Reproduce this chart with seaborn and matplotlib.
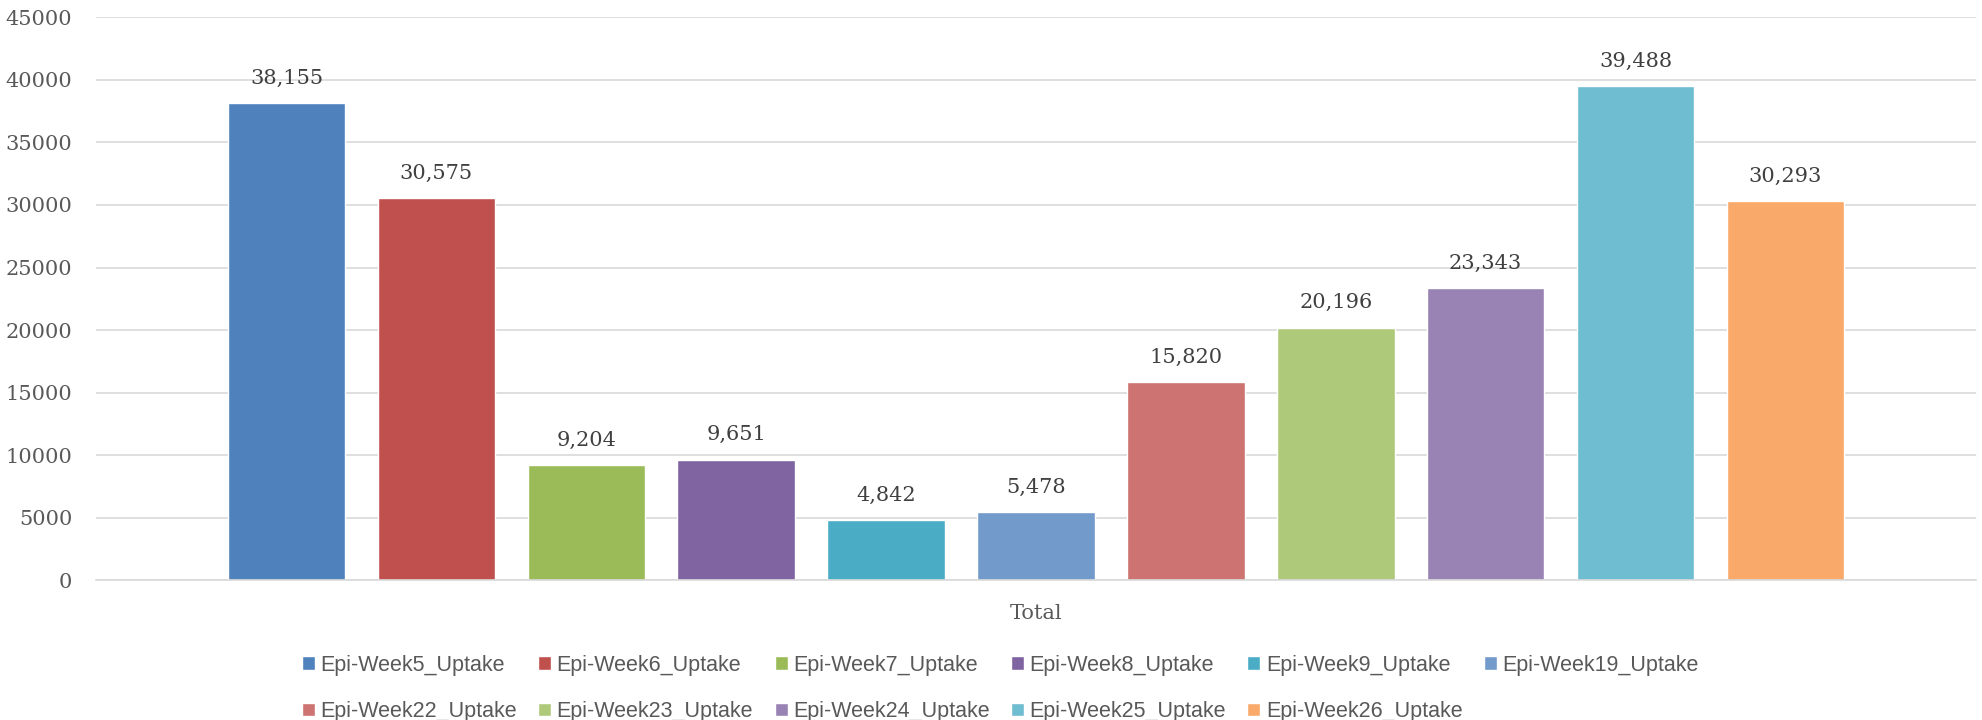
import pandas as pd
import seaborn as sns
import matplotlib.pyplot as plt

# Data
series = ['Epi-Week5_Uptake', 'Epi-Week6_Uptake', 'Epi-Week7_Uptake', 'Epi-Week8_Uptake',
          'Epi-Week9_Uptake', 'Epi-Week19_Uptake', 'Epi-Week22_Uptake', 'Epi-Week23_Uptake',
          'Epi-Week24_Uptake', 'Epi-Week25_Uptake', 'Epi-Week26_Uptake']
values = [38155, 30575, 9204, 9651, 4842, 5478, 15820, 20196, 23343, 39488, 30293]
category = 'Total'
yticks = [0, 5000, 10000, 15000, 20000, 25000, 30000, 35000, 40000, 45000]
colors = ['#4F81BD', '#C0504D', '#9BBB59', '#8064A2', '#4BACC6', '#729ACA',
          '#CD7371', '#AFC97A', '#9983B5', '#6FBDD1', '#F9AA6B']

df = pd.DataFrame({'cat': [category] * len(series), 'series': series, 'value': values})

sns.set_style('white')
plt.rcParams['font.family'] = ['DejaVu Serif']

fig = plt.figure(figsize=(19.82, 7.2), dpi=100)
ax = fig.add_axes([0.0484, 0.194, 0.9486, 0.782])

sns.barplot(data=df, x='cat', y='value', hue='series', palette=colors, hue_order=series,
            width=0.877, gap=0.216, saturation=1, ax=ax, legend=True)

for cont in ax.containers:
    ax.bar_label(cont, labels=[f'{v:,.0f}' for v in cont.datavalues], padding=11,
                 fontsize=15, color='#404040', family='DejaVu Serif')

ax.set_xlim(-0.5, 0.5)
ax.set_ylim(0, 45000)
ax.set_yticks(yticks, labels=[str(t) for t in yticks])
ax.set_xticks([0], labels=[category])
ax.yaxis.grid(True, color='#d9d9d9', linewidth=1.2)
ax.set_axisbelow(True)
for s in ['top', 'right', 'left']:
    ax.spines[s].set_visible(False)
ax.spines['bottom'].set_color('#d9d9d9')
ax.spines['bottom'].set_linewidth(1.2)
ax.tick_params(axis='both', length=0, labelsize=15, labelcolor='#595959')
ax.tick_params(axis='y', pad=17)
ax.tick_params(axis='x', pad=17)
ax.set_xlabel('')
ax.set_ylabel('')

# legend filled row by row: 6 on the first row, 5 on the second
handles, labels = ax.get_legend_handles_labels()
order = [0, 6, 1, 7, 2, 8, 3, 9, 4, 10, 5]
ax.legend([handles[i] for i in order], [labels[i] for i in order], ncol=6,
          loc='upper center', bbox_to_anchor=(0.481, -0.117), frameon=False,
          prop={'family': ['Liberation Sans', 'DejaVu Sans'], 'size': 15.5},
          labelcolor='#595959', handlelength=0.6, handleheight=0.6, handletextpad=0.25,
          columnspacing=1.0, labelspacing=1.18, borderaxespad=0)

fig.savefig('out.png')
